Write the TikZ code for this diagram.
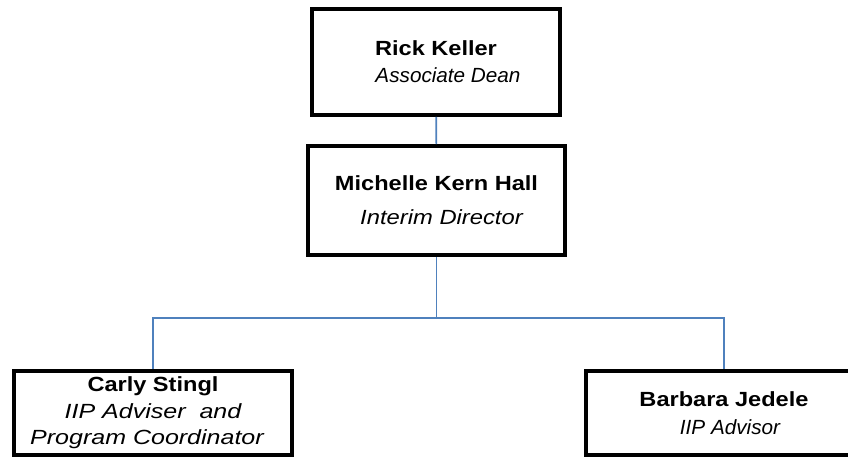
\documentclass[tikz,border=0pt]{standalone}
\usepackage{fontspec}
\setmainfont{Liberation Sans}
\newfontfamily\namefont{Liberation Sans}[FakeStretch=1.15]
\newfontfamily\rolefont{Liberation Sans}[FakeStretch=1.01]
\newfontfamily\rolewidefont{Liberation Sans}[FakeStretch=1.16]
\newfontfamily\rolewiderfont{Liberation Sans}[FakeStretch=1.22]
\usetikzlibrary{positioning}
\definecolor{linkblue}{RGB}{79,129,189}

\begin{document}
\begin{tikzpicture}
[x=1pt,y=-1pt,
person/.style ={draw=black, line width=3.6pt, fill=white, align=center,
inner sep=0pt, font=\fontsize{20.5}{27}\selectfont},
link/.style ={draw=linkblue, line width=1.6pt}]
\useasboundingbox (0,0) rectangle (848,457);
%top of the chart
\node [person, minimum width=248pt, minimum height=106pt] (rk) at (436, 62)
  {{\namefont\bfseries Rick Keller}\\{\rolefont\itshape\hspace*{24pt}Associate Dean}};
\node [person, minimum width=257pt, minimum height=109pt,
  font=\fontsize{20.5}{34}\selectfont] (mk) at (436.5, 200.5)
  {{\namefont\bfseries Michelle Kern Hall}\\{\rolewidefont\itshape\hspace*{10pt}Interim Director}};
%staff
\node [person, minimum width=278pt, minimum height=84pt,
  font=\fontsize{20.5}{26.5}\selectfont] (cs) at (153, 413)
  {{\namefont\bfseries Carly Stingl}\\{\rolewiderfont\itshape IIP Adviser~ and\hspace*{16pt}}\\{\rolewiderfont\itshape Program Coordinator\hspace*{12pt}}};
\node [person, minimum width=276pt, minimum height=84pt,
  font=\fontsize{20.5}{28}\selectfont] (bj) at (724, 413)
  {{\namefont\bfseries Barbara Jedele}\\{\rolefont\itshape\hspace*{12pt}IIP Advisor}};

\coordinate (bar) at (436.5, 318);
\draw [link] (rk) -- (mk);
\draw [link] (mk) -- (bar);
\draw [link] (bar) -| (cs.north);
\draw [link] (bar) -| (bj.north);

\end{tikzpicture}
\end{document}
